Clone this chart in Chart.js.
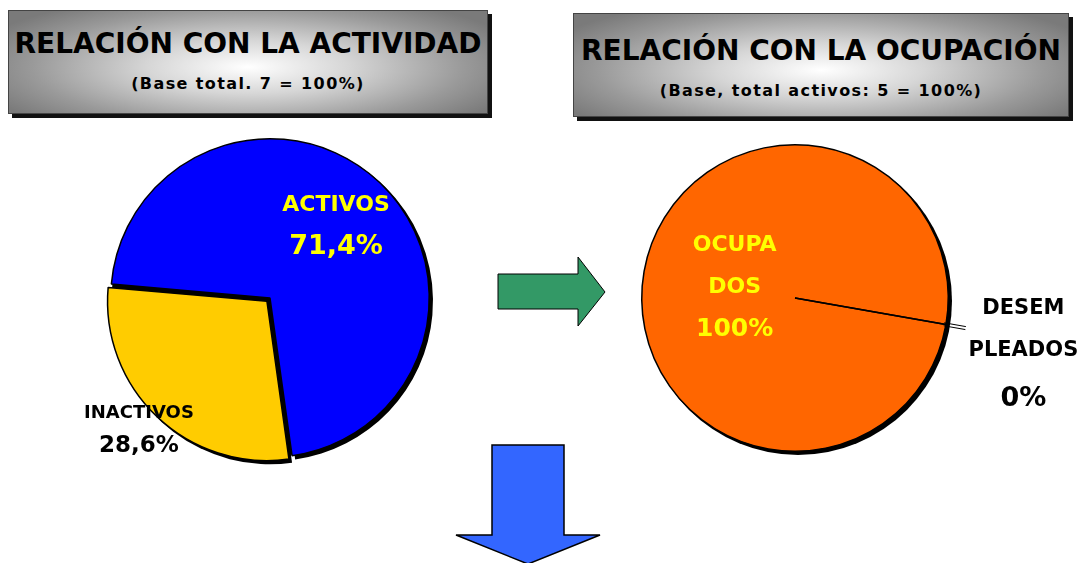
<!DOCTYPE html>
<html>
<head>
<meta charset="utf-8">
<script src="https://cdn.jsdelivr.net/npm/chart.js@4"></script>
<style>
  body { margin: 0; width: 1080px; height: 563px; background: #fff; overflow: hidden; position: relative;
         font-family: "Comic Sans MS", "DejaVu Sans", sans-serif; }
  .title-box { position: absolute; border: 1px solid #444; box-shadow: 4px 4px 0 #111;
               background: radial-gradient(ellipse 60% 75% at 50% 55%, #ffffff 0%, #d6d6d6 35%, #9a9a9a 75%, #7a7a7a 100%);
               text-align: center; font-weight: bold; color: #000; }
  .title-box .main { font-size: 28px; white-space: nowrap; }
  .title-box .sub { font-size: 16px; white-space: nowrap; letter-spacing: 1.4px; }
  .chart-box { position: absolute; }
  svg { position: absolute; left: 0; top: 0; }
</style>
</head>
<body>

<div class="title-box" style="left:8px; top:10px; width:478px; height:102px;">
  <div class="main" style="margin-top:16px;">RELACIÓN CON LA ACTIVIDAD</div>
  <div class="sub" style="margin-top:14px;">(Base total. 7 = 100%)</div>
</div>
<div class="title-box" style="left:573px; top:13px; width:494px; height:102px;">
  <div class="main" style="margin-top:20px;">RELACIÓN CON LA OCUPACIÓN</div>
  <div class="sub" style="margin-top:14px;">(Base, total activos: 5 = 100%)</div>
</div>

<svg width="1080" height="563">
  <polygon points="498,274 578,274 578,257 605,292 578,326 578,309 498,309" fill="#339966" stroke="#000" stroke-width="1"/>
  <polygon points="492,445 564,445 564,535 600,535 528,564 456,535 492,535" fill="#3366ff" stroke="#000" stroke-width="1.5"/>
</svg>

<div class="chart-box" style="left:60px; top:125px; width:420px; height:345px;"><canvas id="actividad"></canvas></div>
<div class="chart-box" style="left:620px; top:130px; width:460px; height:330px;"><canvas id="ocupacion"></canvas></div>

<script>
// Relación con la actividad (base 7)
const activityCategories = ['ACTIVOS', 'INACTIVOS'];
const activityValues = [71.4, 28.6];
const activityLabelLines = [['ACTIVOS'], ['INACTIVOS']];

// Relación con la ocupación (base 5 activos)
const occupationCategories = ['OCUPADOS', 'DESEMPLEADOS'];
const occupationValues = [100, 0];
const occupationLabelLines = [['OCUPA', 'DOS'], ['DESEM', 'PLEADOS']];

const FONT = '"Comic Sans MS", "DejaVu Sans", sans-serif';

function pct(v) {
    return (Number.isInteger(v) ? String(v) : v.toFixed(1).replace('.', ',')) + '%';
}

function wedge(ctx, x, y, r, a0, a1, full) {
    ctx.beginPath();
    if (full) {
        ctx.arc(x, y, r, 0, Math.PI * 2);
    } else {
        ctx.moveTo(x, y);
        ctx.arc(x, y, r, a0, a1);
        ctx.closePath();
    }
    ctx.fill();
}

// flat black copy of each slice, shifted down-right, drawn under the pie;
// an exploded slice also leaves a black hole where it used to sit
const shadowPlugin = {
    id: 'shadow',
    beforeDatasetsDraw(chart) {
        const ctx = chart.ctx;
        ctx.save();
        ctx.fillStyle = '#000';
        chart.getDatasetMeta(0).data.forEach(arc => {
            const p = arc.getProps(['x', 'y', 'startAngle', 'endAngle', 'outerRadius', 'circumference'], true);
            if (!p.circumference) return;
            const full = p.circumference >= Math.PI * 2 - 1e-6;
            // Chart.js v4 moves an offset slice by offset / 4
            const off = (arc.options.offset || 0) / 4;
            const mid = (p.startAngle + p.endAngle) / 2;
            const dx = Math.cos(mid) * off, dy = Math.sin(mid) * off;
            wedge(ctx, p.x + dx + 3, p.y + dy + 3, p.outerRadius + 0.75, p.startAngle, p.endAngle, full);
            if (off) {
                wedge(ctx, p.x, p.y, p.outerRadius - 1, p.startAngle - 0.01, p.endAngle + 0.01, full);
            }
        });
        ctx.restore();
    }
};

// text labels placed from each arc's own geometry
const sliceLabels = {
    id: 'sliceLabels',
    afterDatasetsDraw(chart, args, opts) {
        const ctx = chart.ctx;
        const meta = chart.getDatasetMeta(0);
        const values = chart.data.datasets[0].data;
        meta.data.forEach((arc, i) => {
            const cfg = opts.items[i];
            const p = arc.getProps(['x', 'y', 'startAngle', 'endAngle', 'outerRadius'], true);
            const mid = (p.startAngle + p.endAngle) / 2;
            const cx = p.x + Math.cos(mid) * p.outerRadius * cfg.k + cfg.dx;
            const cy = p.y + Math.sin(mid) * p.outerRadius * cfg.k + cfg.dy;
            const lines = cfg.lines.concat([pct(values[i])]);
            let y = cy - cfg.gaps.reduce((a, b) => a + b, 0) / 2;
            ctx.save();
            ctx.fillStyle = cfg.color;
            ctx.textAlign = 'center';
            ctx.textBaseline = 'middle';
            lines.forEach((t, j) => {
                ctx.font = 'bold ' + cfg.sizes[j] + 'px ' + FONT;
                ctx.fillText(t, cx, y);
                y += cfg.gaps[j] || 0;
            });
            ctx.restore();
        });
    }
};

// radial line and double leader for the 0% slice
const zeroSlice = {
    id: 'zeroSlice',
    afterDatasetsDraw(chart) {
        const ctx = chart.ctx;
        const values = chart.data.datasets[0].data;
        chart.getDatasetMeta(0).data.forEach((arc, i) => {
            if (values[i] !== 0) return;
            const p = arc.getProps(['x', 'y', 'startAngle', 'outerRadius'], true);
            const a = p.startAngle, r = p.outerRadius;
            const c = Math.cos(a), s = Math.sin(a);
            ctx.save();
            ctx.strokeStyle = '#000';
            ctx.lineWidth = 1.5;
            ctx.beginPath();
            ctx.moveTo(p.x, p.y);
            ctx.lineTo(p.x + c * r, p.y + s * r);
            ctx.stroke();
            ctx.lineWidth = 1;
            [-1.5, 1.5].forEach(o => {
                ctx.beginPath();
                ctx.moveTo(p.x + c * (r - 2) - s * o, p.y + s * (r - 2) + c * o);
                ctx.lineTo(p.x + c * (r + 20) - s * o, p.y + s * (r + 20) + c * o);
                ctx.stroke();
            });
            ctx.restore();
        });
    }
};

Chart.defaults.animation = false;

new Chart(document.getElementById('actividad'), {
    type: 'pie',
    data: {
        labels: activityCategories,
        datasets: [{
            data: activityValues,
            backgroundColor: ['#0000ff', '#ffcc00'],
            borderColor: '#000',
            borderWidth: 1.5,
            offset: [0, 18],
            clip: false
        }]
    },
    options: {
        responsive: true,
        maintainAspectRatio: false,
        rotation: 275,
        layout: { padding: { left: 41, top: 4, right: 41, bottom: 3 } },
        plugins: {
            legend: { display: false },
            tooltip: { enabled: false },
            sliceLabels: {
                items: [
                    { lines: activityLabelLines[0], k: 0.62, dx: -2, dy: 0, sizes: [22, 27], gaps: [42], color: '#ffff00' },
                    { lines: activityLabelLines[1], k: 1.14, dx: -6, dy: 0, sizes: [18, 23], gaps: [32], color: '#000' }
                ]
            }
        }
    },
    plugins: [shadowPlugin, sliceLabels]
});

new Chart(document.getElementById('ocupacion'), {
    type: 'pie',
    data: {
        labels: occupationCategories,
        datasets: [{
            data: occupationValues,
            backgroundColor: ['#ff6600', '#ff6600'],
            borderColor: '#000',
            borderWidth: 1.5,
            clip: false
        }]
    },
    options: {
        responsive: true,
        maintainAspectRatio: false,
        rotation: 100,
        layout: { padding: { left: 21, top: 14, right: 131, bottom: 8 } },
        plugins: {
            legend: { display: false },
            tooltip: { enabled: false },
            sliceLabels: {
                items: [
                    { lines: occupationLabelLines[0], k: 0.4, dx: 0, dy: 0, sizes: [22, 22, 25], gaps: [42, 43], color: '#ffff00' },
                    { lines: occupationLabelLines[1], k: 1.5, dx: 2, dy: 16, sizes: [21, 21, 27], gaps: [42, 48], color: '#000' }
                ]
            }
        }
    },
    plugins: [shadowPlugin, zeroSlice, sliceLabels]
});
</script>
</body>
</html>
